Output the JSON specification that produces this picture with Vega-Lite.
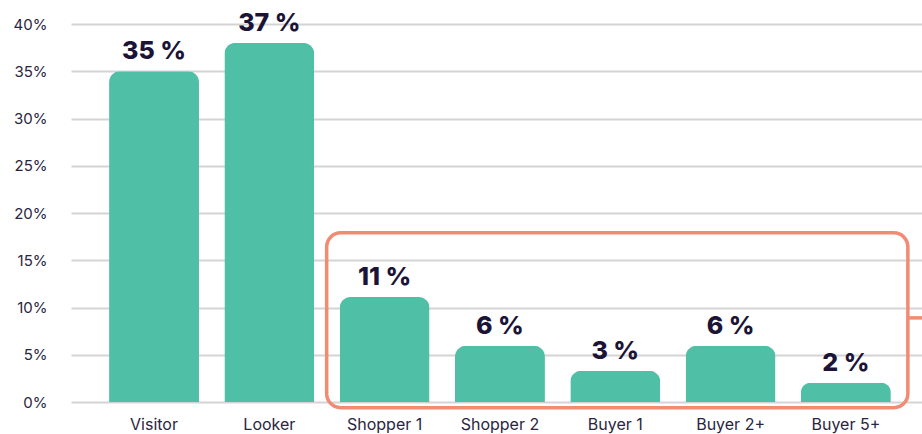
{
  "$schema": "https://vega.github.io/schema/vega-lite/v6.json",
  "width": 851,
  "height": 378,
  "autosize": {"type": "none"},
  "padding": {"left": 71, "top": 24, "right": 0, "bottom": 32},
  "background": "white",
  "config": {
    "view": {"stroke": null},
    "font": "Inter"
  },
  "datasets": {
    "main": [
      {"category": "Visitor", "value": 35, "label": "35 %"},
      {"category": "Looker", "value": 38, "label": "37 %"},
      {"category": "Shopper 1", "value": 11.1, "label": "11 %"},
      {"category": "Shopper 2", "value": 5.95, "label": "6 %"},
      {"category": "Buyer 1", "value": 3.3, "label": "3 %"},
      {"category": "Buyer 2+", "value": 5.95, "label": "6 %"},
      {"category": "Buyer 5+", "value": 2.05, "label": "2 %"}
    ],
    "box": [
      {"from": "Shopper 1", "to": "Buyer 5+", "low": -0.6, "high": 17.9, "mid": 8.9}
    ]
  },
  "layer": [
    {
      "data": {"name": "main"},
      "mark": {"type": "bar", "color": "#4FBFA5", "cornerRadiusTopLeft": 11, "cornerRadiusTopRight": 11},
      "encoding": {
        "x": {
          "field": "category", "type": "nominal", "sort": null,
          "scale": {"paddingInner": 0.22, "paddingOuter": 0.3, "align": 0.55},
          "axis": {"title": null, "labelAngle": 0, "ticks": false, "domain": false, "grid": false,
                   "labelFontSize": 16, "labelColor": "#2A2540", "labelPadding": 14, "labelFont": "Inter"}
        },
        "y": {
          "field": "value", "type": "quantitative",
          "scale": {"domain": [0, 40], "nice": false},
          "axis": {"title": null, "values": [0, 5, 10, 15, 20, 25, 30, 35, 40], "labelExpr": "datum.value + '%'",
                   "ticks": false, "domain": false, "grid": true, "gridColor": "#D4D4D4", "gridWidth": 2,
                   "labelFontSize": 15, "labelColor": "#2A2540", "labelPadding": 24, "labelFont": "Inter"}
        }
      }
    },
    {
      "data": {"name": "main"},
      "mark": {"type": "text", "font": "Inter", "fontWeight": 800, "fontSize": 25, "color": "#1B1437", "baseline": "alphabetic", "dy": -12},
      "encoding": {
        "x": {"field": "category", "type": "nominal", "sort": null},
        "y": {"field": "value", "type": "quantitative"},
        "text": {"field": "label"}
      }
    },
    {
      "data": {"name": "box"},
      "mark": {"type": "rect", "fill": "transparent", "stroke": "#F28B74", "strokeWidth": 3.5, "cornerRadius": 14, "xOffset": -13, "x2Offset": 17},
      "encoding": {
        "x": {"field": "from", "type": "nominal", "sort": null, "bandPosition": 0},
        "x2": {"field": "to", "bandPosition": 1},
        "y": {"field": "high", "type": "quantitative"},
        "y2": {"field": "low"}
      }
    },
    {
      "data": {"name": "box"},
      "mark": {"type": "rule", "stroke": "#F28B74", "strokeWidth": 3.5, "xOffset": 17},
      "encoding": {
        "x": {"field": "to", "type": "nominal", "sort": null, "bandPosition": 1},
        "x2": {"value": "width"},
        "y": {"field": "mid", "type": "quantitative"}
      }
    }
  ]
}
